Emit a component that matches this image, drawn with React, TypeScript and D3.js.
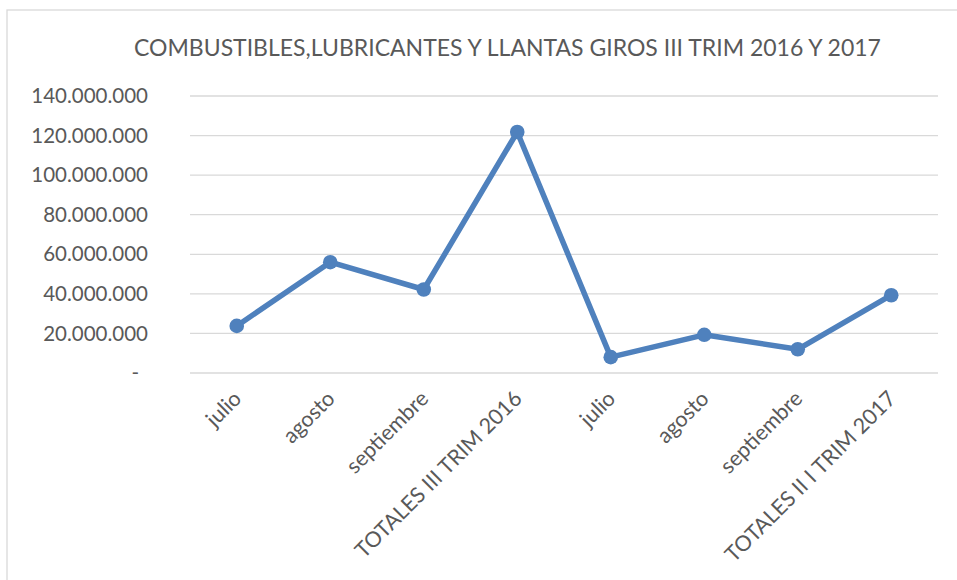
import React from "react";
import * as d3 from "d3";

const TITLE = "COMBUSTIBLES,LUBRICANTES Y LLANTAS GIROS III TRIM 2016 Y 2017";
const categories = [
  "julio",
  "agosto",
  "septiembre",
  "TOTALES III TRIM 2016",
  "julio ",
  "agosto ",
  "septiembre ",
  "TOTALES II I TRIM 2017",
];
const values = [23.8e6, 56.0e6, 42.2e6, 121.8e6, 8.0e6, 19.3e6, 12.0e6, 39.3e6];
const yTicks = [0, 20e6, 40e6, 60e6, 80e6, 100e6, 120e6, 140e6];

const W = 957;
const H = 580;
const M = { left: 190, right: 938, top: 96, bottom: 373 };
const FONT = "Lato, 'Open Sans', sans-serif";

const fmt = (v: number) =>
  v === 0 ? "-" : d3.format(",.0f")(v).replace(/,/g, ".");

export default function App() {
  const x = d3
    .scaleBand<string>()
    .domain(categories)
    .range([M.left, M.right])
    .padding(0);
  const y = d3.scaleLinear().domain([0, 140e6]).range([M.bottom, M.top]);
  const cx = (c: string) => (x(c) ?? 0) + x.bandwidth() / 2;
  const line = d3
    .line<number>()
    .x((_, i) => cx(categories[i]))
    .y((d) => y(d));

  return (
    <svg
      width={W}
      height={H}
      style={{ position: "absolute", left: 0, top: 0, background: "#fff" }}
      fontFamily={FONT}
    >
      <rect x={0} y={0} width={W} height={H} fill="#fff" />
      <rect
        x={7}
        y={10}
        width={W + 20}
        height={H + 20}
        fill="none"
        stroke="#d9d9d9"
        strokeWidth={1.3}
      />
      <text
        x={507.5}
        y={56}
        textAnchor="middle"
        fontSize={23}
        fill="#595959"
      >
        {TITLE}
      </text>
      {yTicks.map((t) => (
        <g key={t}>
          <line
            x1={M.left}
            x2={M.right}
            y1={y(t)}
            y2={y(t)}
            stroke="#d9d9d9"
            strokeWidth={1.3}
          />
          <text
            x={t === 0 ? 139 : 148}
            y={y(t)}
            dy="0.35em"
            textAnchor="end"
            fontSize={20.5}
            fill="#595959"
          >
            {fmt(t)}
          </text>
        </g>
      ))}
      {categories.map((c) => (
        <text
          key={c}
          transform={`translate(${cx(c) + 6},${400}) rotate(-45)`}
          textAnchor="end"
          fontSize={21.5}
          fill="#595959"
        >
          {c.trim()}
        </text>
      ))}
      <path
        d={line(values) ?? ""}
        fill="none"
        stroke="#4f81bd"
        strokeWidth={5.5}
        strokeLinejoin="round"
        strokeLinecap="round"
      />
      {values.map((v, i) => (
        <circle key={i} cx={cx(categories[i])} cy={y(v)} r={7.3} fill="#4f81bd" />
      ))}
    </svg>
  );
}
